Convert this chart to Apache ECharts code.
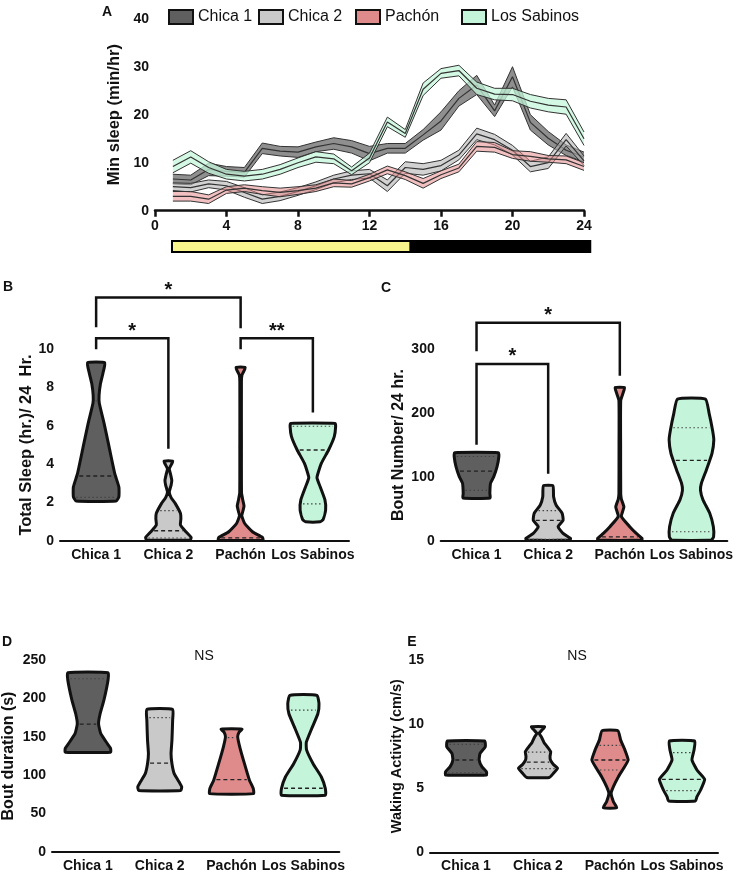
<!DOCTYPE html>
<html>
<head>
<meta charset="utf-8">
<script src="https://cdn.jsdelivr.net/npm/echarts@6/dist/echarts.min.js"></script>
<style>
html,body{margin:0;padding:0;background:#fff;}
#main{width:736px;height:876px;}
</style>
</head>
<body>
<div id="main"></div>
<script>
var FONT = 'Liberation Sans, Arial, sans-serif';

var groups = ['Chica 1', 'Chica 2', 'Pachón', 'Los Sabinos'];
var groupColors = ['#5f5f5f', '#c9c9c9', '#df8b8b', '#c4f5da'];
var bandColors = ['rgba(95,95,95,0.7)', 'rgba(180,180,180,0.6)', 'rgba(232,140,140,0.55)', 'rgba(196,245,218,0.75)'];

// A - min sleep per hour (mean and sem), hours 1..24 on a 0..24 axis
var hourLabels = ['0','1','2','3','4','5','6','7','8','9','10','11','12','13','14','15','16','17','18','19','20','21','22','23','24'];
var c1Mean = [6.6,6.4,8.6,8.2,8.0,13.0,12.4,12.2,13.3,14.0,13.3,11.9,13.0,13.0,15.8,18.7,23.4,26.2,20.8,27.9,18.4,15.1,12.6,11.2];
var c1Sem  = [1.0,1.0,1.3,1.0,1.0,1.1,1.0,1.1,1.0,1.2,1.3,1.5,1.0,1.0,1.1,1.9,1.6,2.0,1.2,2.1,1.6,1.4,1.1,1.0];
var c2Mean = [5.0,4.8,5.6,5.2,3.8,2.4,3.0,4.0,5.2,6.6,7.4,7.7,5.2,9.0,8.6,9.4,11.6,16.0,14.8,12.6,9.2,10.0,14.8,10.4];
var c2Sem  = [0.8,0.9,0.8,0.9,1.0,0.9,0.9,0.8,0.8,0.8,0.9,0.9,1.2,1.2,1.2,1.1,1.0,1.2,1.1,1.0,1.1,1.2,1.3,1.0];
var paMean = [3.0,3.0,2.4,4.3,4.7,4.2,3.8,4.2,4.7,5.8,5.6,6.9,8.5,7.3,5.7,7.5,8.9,13.4,13.2,11.7,11.3,10.8,10.6,9.2];
var paSem  = [1.0,1.0,0.9,0.7,0.7,0.8,0.9,0.8,0.7,0.8,0.7,0.7,0.8,0.8,1.0,0.8,0.8,1.0,1.0,0.8,1.0,0.7,0.8,0.8];
var lsMean = [9.2,11.2,9.0,7.6,7.2,7.6,8.6,10.0,11.2,10.8,8.3,11.0,18.5,16.1,25.3,28.6,29.2,25.5,24.3,24.2,22.8,22.0,21.6,15.0];
var lsSem  = [1.3,1.3,1.2,1.0,1.0,1.0,1.0,1.0,1.1,1.0,0.8,1.0,1.0,0.8,1.3,1.0,1.1,1.3,1.2,1.3,1.4,1.4,1.5,1.4];
var lightPhase = [[0.95, 14.3], [14.3, 24.35]];

// B - total sleep, violin outlines [value, relative half width]
var sleepProfiles = [
  [[2.07,0.88],[2.3,1.0],[2.8,1.0],[3.5,0.82],[4.9,0.57],[6.13,0.35],[7.18,0.14],[7.6,0.13],[8.2,0.19],[8.75,0.3],[9.3,0.38]],
  [[0.04,0.96],[0.17,1.0],[0.47,0.77],[0.82,0.53],[1.15,0.55],[1.43,0.53],[1.95,0.3],[2.25,0.12],[2.55,0.04],[2.9,0.12],[3.15,0.15],[3.45,0.1],[3.75,0.04],[4.0,0.14],[4.16,0.19]],
  [[0.03,0.98],[0.17,0.96],[0.47,0.52],[0.9,0.18],[1.3,0.05],[1.55,0.1],[1.81,0.15],[2.1,0.1],[2.5,0.04],[5.0,0.035],[8.3,0.035],[8.66,0.06],[8.9,0.16],[9.06,0.2]],
  [[0.99,0.32],[1.1,0.45],[1.6,0.56],[2.13,0.53],[2.82,0.32],[3.3,0.18],[4.04,0.37],[4.74,0.69],[5.44,0.94],[5.96,1.0],[6.13,0.97]]
];
var sleepQ1  = [2.26, 0.14, null, 1.92];
var sleepMed = [3.38, 0.52, 0.15, 4.74];
var sleepQ3  = [7.3, 1.57, null, 5.98];
var sleepSig = [
  {from:0, to:2, top:12.7, legFrom:11.15, legTo:11.1, mark:'*'},
  {from:0, to:1, top:10.58, legFrom:10.0, legTo:4.8, mark:'*'},
  {from:2, to:3, top:10.58, legFrom:10.0, legTo:6.7, mark:'**'}
];

// C - bout number
var boutNumProfiles = [
  [[67,0.6],[74,0.59],[90,0.62],[100,0.76],[116,0.91],[132,0.99],[138,0.97]],
  [[1,0.97],[3.7,0.99],[11.5,0.66],[22,0.44],[32,0.66],[43,0.62],[56,0.35],[69,0.24],[86,0.21]],
  [[1,0.98],[3.7,0.98],[11.5,0.73],[22,0.44],[38,0.07],[53,0.18],[65,0.07],[74,0.04],[150,0.035],[220,0.04],[232,0.15],[240,0.21]],
  [[1,0.88],[6,0.98],[22,0.97],[43,0.81],[64,0.51],[79,0.4],[90,0.44],[111,0.66],[137,0.91],[158,0.99],[174,0.93],[200,0.78],[222,0.62]]
];
var boutNumQ1  = [79, 2, null, 14];
var boutNumMed = [109, 32, 6, 126];
var boutNumQ3  = [132, 47, null, 177];
var boutNumSig = [
  {from:0, to:2, top:341.5, legFrom:297, legTo:258.7, mark:'*'},
  {from:0, to:1, top:277, legFrom:150.3, legTo:104.8, mark:'*'}
];

// D - bout duration
var boutDurProfiles = [
  [[130,1.0],[135,1.0],[141,0.86],[154,0.57],[167,0.47],[180,0.54],[198,0.71],[224,0.89],[233.5,0.89]],
  [[80,0.93],[85,0.97],[91,0.86],[102,0.64],[115,0.54],[128,0.5],[145.6,0.54],[171.7,0.57],[185.7,0.57]],
  [[76,0.97],[82.6,0.96],[93.5,0.79],[115,0.57],[137,0.36],[150,0.27],[156,0.33],[160,0.46]],
  [[74,0.97],[82.6,0.97],[98,0.79],[115,0.43],[133,0.14],[143,0.13],[163,0.4],[180,0.64],[193,0.69],[204,0.6]]
];
var boutDurQ1  = [null, null, null, null];
var boutDurMed = [166.5, 115.6, 94.3, 83];
var boutDurQ3  = [225.6, 175, 149, 184.8];

// E - waking activity
var wakeProfiles = [
  [[6.03,0.9],[6.29,0.9],[6.68,0.7],[7.2,0.58],[7.71,0.62],[8.23,0.85],[8.68,0.82]],
  [[5.84,0.5],[6.16,0.68],[6.55,0.86],[6.85,0.68],[7.2,0.55],[7.5,0.53],[7.84,0.56],[8.23,0.41],[8.55,0.27],[9.0,0.15],[9.27,0.05],[9.55,0.18],[9.79,0.29]],
  [[3.48,0.29],[3.95,0.15],[4.6,0.05],[5.12,0.15],[5.9,0.37],[6.55,0.6],[7.2,0.8],[7.97,0.66],[8.75,0.47],[9.48,0.35]],
  [[4.0,0.59],[4.34,0.66],[4.86,0.82],[5.69,1.0],[6.42,0.66],[7.2,0.44],[7.97,0.53],[8.68,0.56]]
];
var wakeQ1  = [6.2, 6.52, 6.42, 4.81];
var wakeMed = [7.2, 7.04, 7.2, 5.69];
var wakeQ3  = [8.42, 7.82, 8.34, 7.77];

var lineMeans = [c1Mean, c2Mean, paMean, lsMean];
var lineSems = [c1Sem, c2Sem, paSem, lsSem];

var chart = echarts.init(document.getElementById('main'));

function widthAt(prof, v){
  if (v <= prof[0][0]) return prof[0][1];
  for (var k = 1; k < prof.length; k++) {
    if (v <= prof[k][0]) {
      var t = (v - prof[k-1][0]) / (prof[k][0] - prof[k-1][0]);
      return prof[k-1][1] + t * (prof[k][1] - prof[k-1][1]);
    }
  }
  return prof[prof.length-1][1];
}

function violinSeries(idx, profiles, q1, med, q3){
  return {
    type: 'custom',
    xAxisIndex: idx, yAxisIndex: idx,
    data: med.map(function(m, i){ return [i, m]; }),
    renderItem: function(params, api){
      var i = params.dataIndex;
      var prof = profiles[i];
      var half = api.size([1, 0])[0] * 0.315;
      var right = [], left = [];
      prof.forEach(function(p){
        var c = api.coord([i, p[0]]);
        right.push([c[0] + p[1] * half, c[1]]);
        left.unshift([c[0] - p[1] * half, c[1]]);
      });
      var kids = [{
        type: 'polygon',
        shape: {points: right.concat(left), smooth: 0.15},
        style: {fill: groupColors[i], stroke: '#111', lineWidth: 3, lineJoin: 'round'}
      }];
      function qline(v, dashed){
        if (v == null) return;
        var c = api.coord([i, v]);
        var w = widthAt(prof, v) * half - 2.5;
        if (w <= 0) return;
        kids.push({
          type: 'line',
          shape: {x1: c[0] - w, y1: c[1], x2: c[0] + w, y2: c[1]},
          style: dashed ? {stroke: '#222', lineWidth: 1.3, lineDash: [4, 3]}
                        : {stroke: '#444', lineWidth: 1.2, lineDash: [1.5, 2.5]}
        });
      }
      qline(q1[i], false);
      qline(med[i], true);
      qline(q3[i], false);
      return {type: 'group', children: kids};
    }
  };
}

function bracketSeries(idx, list){
  return {
    type: 'custom',
    xAxisIndex: idx, yAxisIndex: idx,
    clip: false, z: 5,
    data: list.map(function(b){ return [b.from, b.top]; }),
    renderItem: function(params, api){
      var b = list[params.dataIndex];
      var pa = api.coord([b.from, b.legFrom]);
      var ta = api.coord([b.from, b.top]);
      var tb = api.coord([b.to, b.top]);
      var pb = api.coord([b.to, b.legTo]);
      return {type: 'group', children: [
        {type: 'polyline', shape: {points: [pa, ta, tb, pb]}, style: {stroke: '#111', lineWidth: 2.5, fill: null, lineJoin: 'miter'}},
        {type: 'text', style: {text: b.mark, x: (ta[0] + tb[0]) / 2, y: ta[1] - 7, align: 'center', verticalAlign: 'middle',
          font: 'bold 20px ' + FONT, fill: '#111'}}
      ]};
    }
  };
}

var axisLine = {lineStyle: {color: '#111', width: 2}};
var axisTick = {length: 5, lineStyle: {color: '#111', width: 2}};
var tickLabel = {color: '#111', fontWeight: 'bold', fontSize: 14, fontFamily: FONT, margin: 6};

function catAxis(idx){
  return {type: 'category', gridIndex: idx, data: groups, axisLine: axisLine, axisTick: {show: false},
    axisLabel: {color: '#111', fontWeight: 'bold', fontSize: 14, fontFamily: FONT, margin: 7, interval: 0}, splitLine: {show: false}};
}
function valAxis(idx, max, step, name, gap, nameSize){
  return {type: 'value', gridIndex: idx, min: 0, max: max, interval: step, name: name, nameLocation: 'middle',
    nameGap: gap, nameTextStyle: {color: '#111', fontWeight: 'bold', fontSize: nameSize, fontFamily: FONT},
    axisLine: axisLine, axisTick: axisTick, axisLabel: tickLabel, splitLine: {show: false}};
}

var series = [];
groups.forEach(function(g, i){
  var lo = [null], span = [null], mid = [null];
  lineMeans[i].forEach(function(m, k){
    lo.push(m - lineSems[i][k]);
    span.push(2 * lineSems[i][k]);
    mid.push(m);
  });
  series.push({type: 'line', name: g + ' low', stack: 'band' + i, data: lo, showSymbol: false, silent: true,
    lineStyle: {color: '#333', width: 1}, z: 2 + i});
  series.push({type: 'line', name: g, stack: 'band' + i, data: span, showSymbol: false, silent: true,
    itemStyle: {color: groupColors[i]},
    lineStyle: {color: '#333', width: 1}, areaStyle: {color: bandColors[i], opacity: 1}, z: 2 + i});
  series.push({type: 'line', name: g + ' mean', data: mid, showSymbol: false, silent: true,
    lineStyle: {color: '#333', width: 1.2}, z: 2 + i});
});

series.push({
  type: 'custom', xAxisIndex: 1, yAxisIndex: 1,
  data: lightPhase,
  renderItem: function(params, api){
    var a = api.coord([api.value(0), 1]);
    var b = api.coord([api.value(1), 0]);
    return {type: 'rect', shape: {x: a[0], y: a[1], width: b[0] - a[0], height: b[1] - a[1]},
      style: {fill: params.dataIndex === 0 ? '#f8f58c' : '#000', stroke: '#000', lineWidth: 2}};
  }
});

series.push(violinSeries(2, sleepProfiles, sleepQ1, sleepMed, sleepQ3));
series.push(bracketSeries(2, sleepSig));
series.push(violinSeries(3, boutNumProfiles, boutNumQ1, boutNumMed, boutNumQ3));
series.push(bracketSeries(3, boutNumSig));
series.push(violinSeries(4, boutDurProfiles, boutDurQ1, boutDurMed, boutDurQ3));
series.push(violinSeries(5, wakeProfiles, wakeQ1, wakeMed, wakeQ3));

var legendLefts = [163, 253, 350, 456];
var legends = groups.map(function(g, i){
  return {left: legendLefts[i], top: 4, icon: 'rect', itemWidth: 24, itemHeight: 14, itemGap: 0,
    textStyle: {color: '#111', fontSize: 16, fontFamily: FONT},
    data: [{name: g, itemStyle: {color: groupColors[i], borderColor: '#111', borderWidth: 2}}]};
});

function label(t, x, y, font){
  return {type: 'text', x: x, y: y, style: {text: t, font: font, fill: '#111', align: 'center', verticalAlign: 'middle'}};
}

chart.setOption({
  animation: false,
  backgroundColor: '#fff',
  legend: legends,
  grid: [
    {left: 155, top: 18.7, width: 429, height: 192},
    {left: 155, top: 241, width: 429, height: 11},
    {left: 60, top: 349.3, width: 289, height: 191.4},
    {left: 440.7, top: 349.3, width: 287.3, height: 191.4},
    {left: 51.7, top: 660, width: 287.6, height: 192},
    {left: 430, top: 660, width: 288, height: 192.3}
  ],
  xAxis: [
    {type: 'category', gridIndex: 0, data: hourLabels, boundaryGap: false, axisLine: {lineStyle: {color: '#111', width: 2.5}},
      axisTick: {interval: 3, length: 6, lineStyle: {color: '#111', width: 2.5}},
      axisLabel: {interval: 3, color: '#111', fontWeight: 'bold', fontSize: 14, fontFamily: FONT, margin: 8},
      splitLine: {show: false}},
    {type: 'value', gridIndex: 1, min: 0, max: 24, show: false},
    catAxis(2), catAxis(3), catAxis(4), catAxis(5)
  ],
  yAxis: [
    {type: 'value', gridIndex: 0, min: 0, max: 40, interval: 10, name: 'Min sleep (min/hr)', nameLocation: 'middle', nameGap: 26,
      nameTextStyle: {color: '#111', fontWeight: 'bold', fontSize: 16.5, fontFamily: FONT},
      axisLine: {lineStyle: {color: '#111', width: 2.5}},
      axisTick: {length: 6, lineStyle: {color: '#111', width: 2.5}}, axisLabel: tickLabel, splitLine: {show: false}},
    {type: 'value', gridIndex: 1, min: 0, max: 1, show: false},
    valAxis(2, 10, 2, 'Total Sleep (hr.)/ 24  Hr.', 21, 16.5),
    valAxis(3, 300, 100, 'Bout Number/ 24 hr.', 34, 16),
    valAxis(4, 250, 50, 'Bout duration (s)', 35, 16),
    valAxis(5, 15, 5, 'Waking Activity (cm/s)', 26, 14.5)
  ],
  graphic: [
    label('A', 107, 12, 'bold 14px ' + FONT),
    label('B', 8, 287, 'bold 14px ' + FONT),
    label('C', 386, 288, 'bold 14px ' + FONT),
    label('D', 7, 642, 'bold 14px ' + FONT),
    label('E', 412, 642, 'bold 14px ' + FONT),
    label('NS', 204, 656, '14px ' + FONT),
    label('NS', 577, 656, '14px ' + FONT)
  ],
  series: series
});
</script>
</body>
</html>
